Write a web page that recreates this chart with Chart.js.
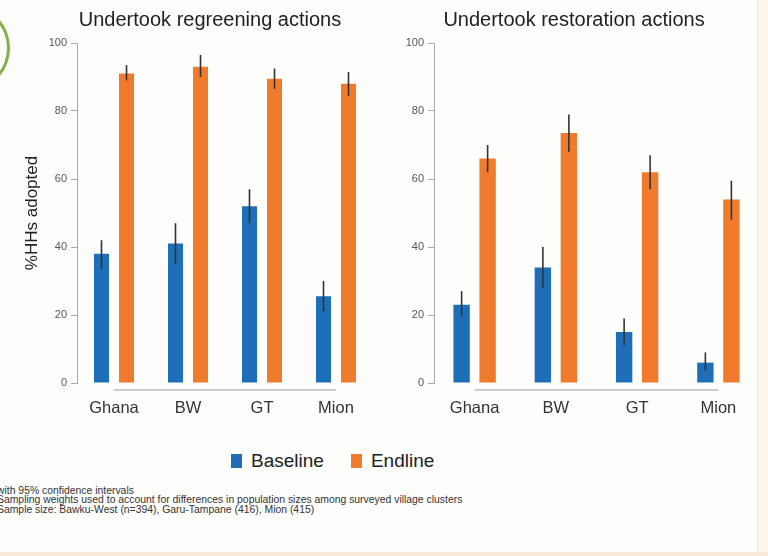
<!DOCTYPE html>
<html>
<head>
<meta charset="utf-8">
<script src="https://cdn.jsdelivr.net/npm/chart.js@4/dist/chart.umd.min.js"></script>
<style>
  body { margin: 0; background: #fdfdfc; font-family: "Liberation Sans", Arial, sans-serif; }
  #wrap { position: relative; width: 768px; height: 556px; overflow: hidden; }
  .box { position: absolute; top: 0; width: 384px; height: 420px; }
  .ttl { position: absolute; top: 8px; font-size: 20px; color: #222; white-space: nowrap; transform: translateX(-50%); }
  #legend { position: absolute; top: 450px; left: 231px; font-size: 19px; color: #222; display: flex; align-items: center; }
  #legend span.sw { display: inline-block; width: 11px; height: 14px; margin-right: 9px; }
  #notes { position: absolute; top: 486px; left: -3px; font-size: 10.4px; line-height: 9.3px; color: #333; white-space: nowrap; }
  #arc { position: absolute; left: -62px; top: 8px; width: 66px; height: 74px; border: 3px solid #7cb342; border-radius: 50%; }
  #edge { position: absolute; left: 757px; top: 0; width: 11px; height: 556px; background: #fdf8ee; border-left: 1px solid #f2eadb; }
  #foot { position: absolute; left: 0; top: 552px; width: 768px; height: 4px; background: #f8ead6; }
</style>
</head>
<body>
<div id="wrap">
  <div id="arc"></div>
  <div id="edge"></div>
  <div id="foot"></div>
  <div class="box" style="left:0"><canvas id="c1" width="384" height="420"></canvas></div>
  <div class="box" style="left:384px"><canvas id="c2" width="384" height="420"></canvas></div>
  <div class="ttl" style="left:210px">Undertook regreening actions</div>
  <div class="ttl" style="left:574px">Undertook restoration actions</div>
  <div id="legend">
    <span class="sw" style="background:#1f6fb8"></span><span style="margin-right:27px">Baseline</span>
    <span class="sw" style="background:#f07b2c"></span><span>Endline</span>
  </div>
  <div id="notes">
    with 95% confidence intervals<br>
    Sampling weights used to account for differences in population sizes among surveyed village clusters<br>
    Sample size: Bawku-West (n=394), Garu-Tampane (416), Mion (415)
  </div>
</div>
<script>
var regions = ["Ghana", "BW", "GT", "Mion"];
var yTicks = [0, 20, 40, 60, 80, 100];

// regreening
var regBase = [38, 41, 52, 25.5];
var regBaseLo = [33.5, 35, 47, 21];
var regBaseHi = [42, 47, 57, 30];
var regEnd = [91, 93, 89.5, 88];
var regEndLo = [89, 90, 86.5, 84.5];
var regEndHi = [93.5, 96.5, 92.5, 91.5];

// restoration
var resBase = [23, 34, 15, 6];
var resBaseLo = [19.5, 28, 11, 3.5];
var resBaseHi = [27, 40, 19, 9];
var resEnd = [66, 73.5, 62, 54];
var resEndLo = [62, 68, 57, 48];
var resEndHi = [70, 79, 67, 59.5];

var blue = "#1f6fb8";
var orange = "#f07b2c";

// error bars + R style x axis line
var errPlugin = {
  id: "errbars",
  afterDatasetsDraw: function(chart) {
    var ctx = chart.ctx;
    var y = chart.scales.y;
    ctx.save();
    ctx.strokeStyle = "#333";
    ctx.lineWidth = 1.6;
    chart.data.datasets.forEach(function(ds, i) {
      var meta = chart.getDatasetMeta(i);
      meta.data.forEach(function(bar, j) {
        ctx.beginPath();
        ctx.moveTo(bar.x, y.getPixelForValue(ds.lo[j]));
        ctx.lineTo(bar.x, y.getPixelForValue(ds.hi[j]));
        ctx.stroke();
      });
    });
    var x = chart.scales.x;
    var ly = chart.chartArea.bottom + 7;
    ctx.strokeStyle = "#999";
    ctx.lineWidth = 1;
    ctx.beginPath();
    ctx.moveTo(x.getPixelForTick(0), ly);
    ctx.lineTo(x.getPixelForTick(regions.length - 1), ly);
    ctx.stroke();
    ctx.restore();
  }
};

function makeChart(id, base, baseLo, baseHi, end, endLo, endHi, opt) {
  return new Chart(document.getElementById(id).getContext("2d"), {
    type: "bar",
    data: {
      labels: regions,
      datasets: [
        { label: "Baseline", data: base, lo: baseLo, hi: baseHi, backgroundColor: blue,
          categoryPercentage: opt.cat, barPercentage: opt.bar },
        { label: "Endline", data: end, lo: endLo, hi: endHi, backgroundColor: orange,
          categoryPercentage: opt.cat, barPercentage: opt.bar }
      ]
    },
    options: {
      responsive: false,
      animation: false,
      layout: { padding: { top: 43, right: opt.right, left: 0, bottom: 0 } },
      plugins: { legend: { display: false }, tooltip: { enabled: false } },
      scales: {
        x: {
          grid: { display: false },
          border: { display: false },
          ticks: { color: "#333", font: { size: 16.5, family: "Liberation Sans" }, padding: 8 },
          afterFit: function(s) { s.height = 37; }
        },
        y: {
          min: 0,
          max: 100,
          afterBuildTicks: function(s) { s.ticks = yTicks.map(function(v) { return { value: v }; }); },
          grid: { drawOnChartArea: false, drawTicks: true, tickLength: 6, color: "#aaa" },
          border: { color: "#aaa" },
          ticks: { color: "#555", font: { size: 11, family: "Liberation Sans" }, padding: 4 },
          title: { display: opt.ytitle, text: "%HHs adopted", color: "#222",
                   font: { size: 17, family: "Liberation Sans" }, padding: { top: 22, bottom: 0 } },
          afterFit: function(s) { s.width = opt.yw; }
        }
      }
    },
    plugins: [errPlugin]
  });
}

makeChart("c1", regBase, regBaseLo, regBaseHi, regEnd, regEndLo, regEndHi,
  { cat: 0.676, bar: 0.6, right: 11, yw: 77, ytitle: true });
makeChart("c2", resBase, resBaseLo, resBaseHi, resEnd, resEndLo, resEndHi,
  { cat: 0.64, bar: 0.63, right: 9, yw: 50, ytitle: false });
</script>
</body>
</html>
